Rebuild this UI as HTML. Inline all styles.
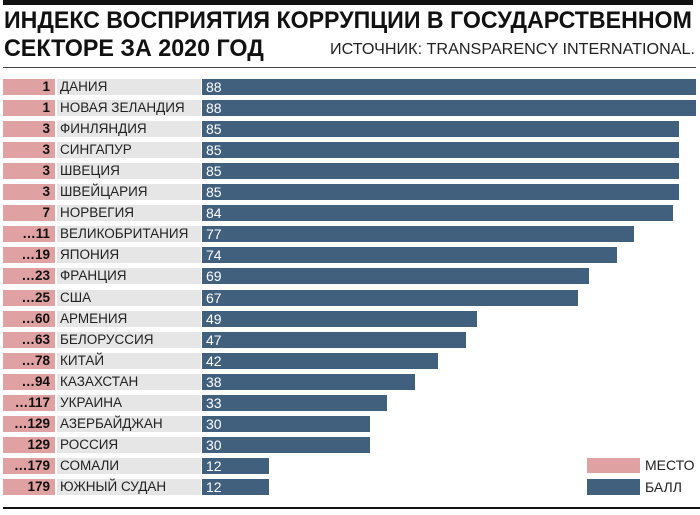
<!DOCTYPE html>
<html><head><meta charset="utf-8"><style>
body{margin:0;width:700px;height:515px;background:#fff;position:relative;overflow:hidden;font-family:"Liberation Sans",sans-serif;}
.a{position:absolute}
.t{position:absolute;left:4px;font-weight:bold;font-size:24px;color:#111;white-space:nowrap;transform-origin:0 0;}
.row{position:absolute;left:3px;height:16px;width:697px}
.p{position:absolute;left:0;top:0;width:52px;height:16px;background:#dfa1a2;font-weight:bold;font-size:13.5px;line-height:16px;text-align:right;color:#111;box-sizing:border-box;padding-right:5px;white-space:nowrap}
.g{position:absolute;left:54px;top:0;width:144px;height:16px;background:#e6e6e6;font-size:13.5px;line-height:16px;color:#222;padding-left:3px;box-sizing:border-box;white-space:nowrap}
.b{position:absolute;left:199px;top:0;height:16px;background:#41607e;color:#fff;font-size:14px;line-height:16px;padding-left:4px;box-sizing:border-box}
</style></head><body>
<div class="a" style="left:3px;top:0;width:690px;height:5px;background:#111"></div>
<div class="t" style="top:7px;transform:scaleX(0.965)">ИНДЕКС ВОСПРИЯТИЯ КОРРУПЦИИ В ГОСУДАРСТВЕННОМ</div>
<div class="t" style="top:35px;transform:scaleX(0.97)">СЕКТОРЕ ЗА 2020 ГОД</div>
<div class="a" style="left:330px;top:41px;font-size:16px;color:#222;white-space:nowrap;transform:scaleX(1.01);transform-origin:0 0">ИСТОЧНИК: TRANSPARENCY INTERNATIONAL.</div>
<div class="a" style="left:3px;top:67px;width:693px;height:1px;background:#444"></div>
<div id="rows"></div>
<div class="a" style="left:587px;top:458px;width:53px;height:15px;background:#dfa1a2"></div>
<div class="a" style="left:587px;top:479px;width:53px;height:16px;background:#41607e"></div>
<div class="a" style="left:645px;top:457px;font-size:14px;color:#222">МЕСТО</div>
<div class="a" style="left:645px;top:479px;font-size:14px;color:#222">БАЛЛ</div>
<div class="a" style="left:3px;top:507px;width:697px;height:2px;background:#111"></div>
<script>
var d=[["1","ДАНИЯ",88],["1","НОВАЯ ЗЕЛАНДИЯ",88],["3","ФИНЛЯНДИЯ",85],["3","СИНГАПУР",85],["3","ШВЕЦИЯ",85],["3","ШВЕЙЦАРИЯ",85],["7","НОРВЕГИЯ",84],["…11","ВЕЛИКОБРИТАНИЯ",77],["…19","ЯПОНИЯ",74],["…23","ФРАНЦИЯ",69],["…25","США",67],["…60","АРМЕНИЯ",49],["…63","БЕЛОРУССИЯ",47],["…78","КИТАЙ",42],["…94","КАЗАХСТАН",38],["…117","УКРАИНА",33],["…129","АЗЕРБАЙДЖАН",30],["129","РОССИЯ",30],["…179","СОМАЛИ",12],["179","ЮЖНЫЙ СУДАН",12]];
var h="";d.forEach(function(r,i){var y=Math.round(79+i*21.05);var w=Math.round(r[2]*5.61);
h+='<div class="row" style="top:'+y+'px"><div class="p">'+r[0]+'</div><div class="g">'+r[1]+'</div><div class="b" style="width:'+w+'px">'+r[2]+'</div></div>';});
document.getElementById("rows").innerHTML=h;
</script>
</body></html>
